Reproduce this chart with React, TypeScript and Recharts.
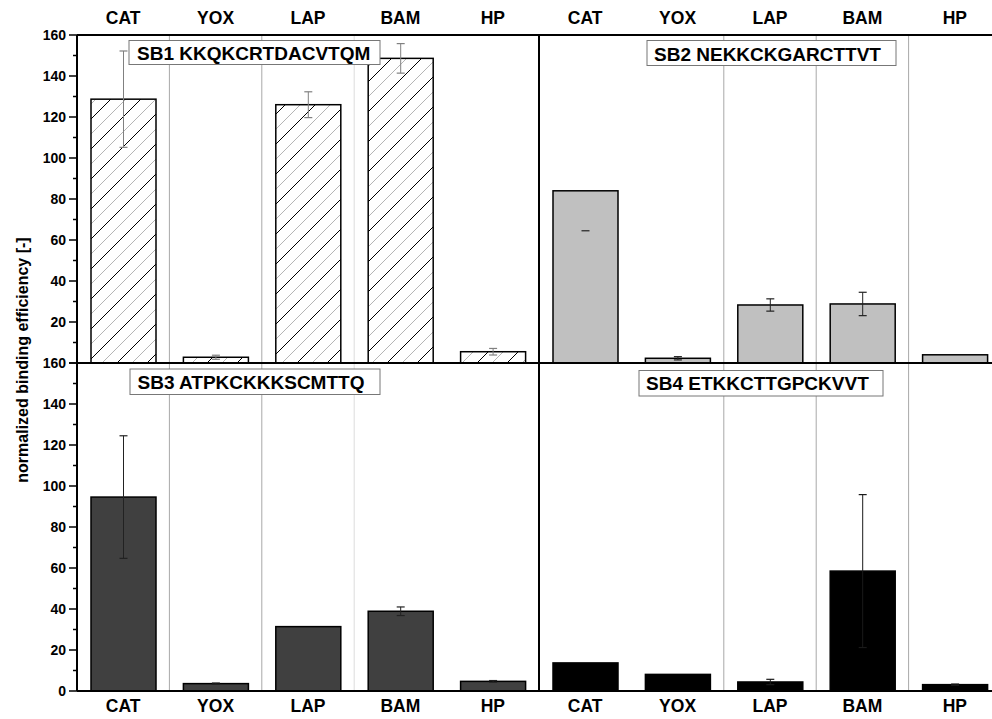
import React from 'react';
import { BarChart, Bar, XAxis, YAxis, ReferenceLine } from 'recharts';

// category names and tick values
const categories = ['CAT', 'YOX', 'LAP', 'BAM', 'HP'];
const catPositions = [0, 1, 2, 3, 4];
const yTicks = [0, 10, 20, 30, 40, 50, 60, 70, 80, 90, 100, 110, 120, 130, 140, 150, 160];

// SB1 KKQKCRTDACVTQM
const sb1Values = [128.7, 2.8, 126.0, 148.6, 5.5];
const sb1ErrLow = [23.5, 1.0, 6.3, 7.2, 1.6];
const sb1ErrHigh = [23.5, 1.0, 6.3, 7.2, 1.6];

// SB2 NEKKCKGARCTTVT
const sb2Values = [84.0, 2.3, 28.3, 28.8, 4.0];
const sb2ErrLow = [19.5, 0.8, 3.0, 5.7, 0];
const sb2ErrHigh = [0, 0.8, 3.0, 5.7, 0];

// SB3 ATPKCKKKSCMTTQ
const sb3Values = [94.6, 3.6, 31.4, 38.9, 4.7];
const sb3ErrLow = [29.9, 0.3, 0, 2.1, 0.4];
const sb3ErrHigh = [29.9, 0.3, 0, 2.1, 0.4];

// SB4 ETKKCTTGPCKVVT
const sb4Values = [13.7, 8.1, 4.4, 58.5, 3.1];
const sb4ErrLow = [0, 0, 1.3, 37.3, 0.3];
const sb4ErrHigh = [0, 0, 1.3, 37.3, 0.3];

const FONT = '"Liberation Sans", Arial, sans-serif';

const buildData = (values: number[], lo: number[], hi: number[]) =>
  categories.map((name, i) => ({ x: catPositions[i], name, v: values[i], lo: lo[i], hi: hi[i] }));

// bar with its error bar, error length converted with the bar's own px/unit
const BarShape = (props: any) => {
  const { x, y, width, height, payload, fill, errColor } = props;
  const k = payload.v ? height / payload.v : 0;
  const cx = x + width / 2;
  const yHi = y - payload.hi * k;
  const yLo = y + payload.lo * k;
  const cap = 4;
  return (
    <g>
      <rect x={x} y={y} width={width} height={height} fill={fill} stroke="#000" strokeWidth={1.5} />
      {payload.hi > 0 && (
        <line x1={cx} x2={cx} y1={yHi} y2={yLo} stroke={errColor} strokeWidth={1} />
      )}
      {payload.hi > 0 && (
        <line x1={cx - cap} x2={cx + cap} y1={yHi} y2={yHi} stroke={errColor} strokeWidth={1.2} />
      )}
      {payload.lo > 0 && (
        <line x1={cx - cap} x2={cx + cap} y1={yLo} y2={yLo} stroke={errColor} strokeWidth={1.2} />
      )}
    </g>
  );
};

const YTick = (props: any) => {
  const { x, y, payload, skipZero } = props;
  const major = payload.value % 20 === 0;
  const ax = x + 11;
  const showLabel = major && !(skipZero && payload.value === 0);
  return (
    <g>
      <line x1={ax} x2={ax - (major ? 8 : 4)} y1={y} y2={y} stroke="#000" strokeWidth={1.5} />
      {showLabel && (
        <text x={x} y={y} dy="0.36em" textAnchor="end" fontFamily={FONT} fontWeight="bold" fontSize={14} fill="#000">
          {payload.value}
        </text>
      )}
    </g>
  );
};

const XTick = (props: any) => {
  const { x, y, payload, top } = props;
  return (
    <text
      x={x}
      y={y}
      dy={top ? 0 : '0.71em'}
      textAnchor="middle"
      fontFamily={FONT}
      fontWeight="bold"
      fontSize={17.5}
      fill="#000"
    >
      {categories[payload.value]}
    </text>
  );
};

interface PanelProps {
  id: string;
  data: any[];
  left: number;
  top: number;
  width: number;
  height: number;
  margin: { top: number; right: number; bottom: number; left: number };
  isLeft: boolean;
  isTop: boolean;
  fill: string;
  errColor: string;
  grid: { x: number; color: string }[];
}

const Panel = ({ id, data, left, top, width, height, margin, isLeft, isTop, fill, errColor, grid }: PanelProps) => (
  <div style={{ position: 'absolute', left, top }}>
    <BarChart width={width} height={height} data={data} margin={margin}>
      <defs>
        <pattern id={`hatch-${id}`} patternUnits="userSpaceOnUse" width={30} height={30}>
          <rect width={30} height={30} fill="#fff" />
          <path d="M-5,35 L35,-5 M-5,5 L5,-5 M25,35 L35,25" stroke="#000" strokeWidth={1} />
          <path d="M-5,20 L20,-5 M10,35 L35,10" stroke="#b4b4b4" strokeWidth={1} />
        </pattern>
      </defs>
      <XAxis
        dataKey="x"
        type="number"
        orientation={isTop ? 'top' : 'bottom'}
        domain={[-0.5, 4.5]}
        allowDataOverflow
        ticks={catPositions}
        interval={0}
        height={isTop ? 35 : 28}
        tickSize={6}
        tickMargin={isTop ? 5 : 3}
        tickLine={false}
        axisLine={{ stroke: '#000', strokeWidth: 2 }}
        tick={<XTick top={isTop} />}
      />
      {isLeft ? (
        <YAxis
          width={77}
          domain={[0, 160]}
          ticks={yTicks}
          interval={0}
          tickSize={8}
          tickMargin={3}
          tickLine={false}
          axisLine={{ stroke: '#000', strokeWidth: 2 }}
          tick={<YTick skipZero={isTop} />}
        />
      ) : (
        <YAxis width={9} domain={[0, 160]} tick={false} tickLine={false} axisLine={{ stroke: '#000', strokeWidth: 2 }} />
      )}
      {grid.map((g) => (
        <ReferenceLine key={g.x} x={g.x} stroke={g.color} strokeWidth={1} ifOverflow="visible" />
      ))}
      {isLeft && <ReferenceLine x={4.5} stroke="#000" strokeWidth={2} ifOverflow="visible" />}
      <ReferenceLine y={isTop ? 0 : 160} stroke="#000" strokeWidth={2} ifOverflow="visible" />
      <Bar
        dataKey="v"
        barSize={65}
        fill={fill === 'hatch' ? `url(#hatch-${id})` : fill}
        isAnimationActive={false}
        shape={(p: any) => <BarShape {...p} errColor={errColor} />}
      />
    </BarChart>
  </div>
);

const boxes = [
  { label: 'SB1 KKQKCRTDACVTQM', x: 129, y: 40.5, w: 251, h: 24, tx: 137, ty: 60 },
  { label: 'SB2 NEKKCKGARCTTVT', x: 647, y: 40.5, w: 249, h: 25, tx: 654, ty: 61 },
  { label: 'SB3 ATPKCKKKSCMTTQ', x: 130, y: 369, w: 250, h: 25.5, tx: 137.5, ty: 389 },
  { label: 'SB4 ETKKCTTGPCKVVT', x: 639, y: 370.5, w: 244, h: 25.5, tx: 646, ty: 390 },
];

const leftGrid = [
  { x: 0.5, color: '#a8a8a8' },
  { x: 1.5, color: '#a8a8a8' },
  { x: 2.5, color: '#dcdcdc' },
];
const rightGrid = [
  { x: 1.5, color: '#a8a8a8' },
  { x: 2.5, color: '#a8a8a8' },
  { x: 3.5, color: '#a8a8a8' },
];

export default function App() {
  return (
    <div style={{ position: 'absolute', left: 0, top: 0, width: 992, height: 719, overflow: 'hidden', background: '#fff' }}>
      <Panel
        id="sb1"
        data={buildData(sb1Values, sb1ErrLow, sb1ErrHigh)}
        left={0}
        top={0}
        width={545}
        height={370}
        margin={{ top: 0, right: 6, bottom: 7, left: 0 }}
        isLeft
        isTop
        fill="hatch"
        errColor="#808080"
        grid={leftGrid}
      />
      <Panel
        id="sb2"
        data={buildData(sb2Values, sb2ErrLow, sb2ErrHigh)}
        left={530}
        top={0}
        width={480}
        height={370}
        margin={{ top: 0, right: 9, bottom: 7, left: 0 }}
        isLeft={false}
        isTop
        fill="#c0c0c0"
        errColor="#222"
        grid={rightGrid}
      />
      <Panel
        id="sb3"
        data={buildData(sb3Values, sb3ErrLow, sb3ErrHigh)}
        left={0}
        top={350}
        width={545}
        height={369}
        margin={{ top: 13, right: 6, bottom: 0, left: 0 }}
        isLeft
        isTop={false}
        fill="#404040"
        errColor="#222"
        grid={leftGrid}
      />
      <Panel
        id="sb4"
        data={buildData(sb4Values, sb4ErrLow, sb4ErrHigh)}
        left={530}
        top={350}
        width={480}
        height={369}
        margin={{ top: 13, right: 9, bottom: 0, left: 0 }}
        isLeft={false}
        isTop={false}
        fill="#000"
        errColor="#1a1a1a"
        grid={rightGrid}
      />
      <svg width={992} height={719} style={{ position: 'absolute', left: 0, top: 0, pointerEvents: 'none' }}>
        {boxes.map((b) => (
          <g key={b.label}>
            <rect x={b.x} y={b.y} width={b.w} height={b.h} fill="#fff" stroke="#777" strokeWidth={1} />
            <text x={b.tx} y={b.ty} fontFamily={FONT} fontWeight="bold" fontSize={19} fill="#000">
              {b.label}
            </text>
          </g>
        ))}
        <text
          transform="rotate(-90)"
          x={-360}
          y={28}
          textAnchor="middle"
          fontFamily={FONT}
          fontWeight="bold"
          fontSize={16}
          fill="#000"
        >
          normalized binding efficiency [-]
        </text>
      </svg>
    </div>
  );
}
